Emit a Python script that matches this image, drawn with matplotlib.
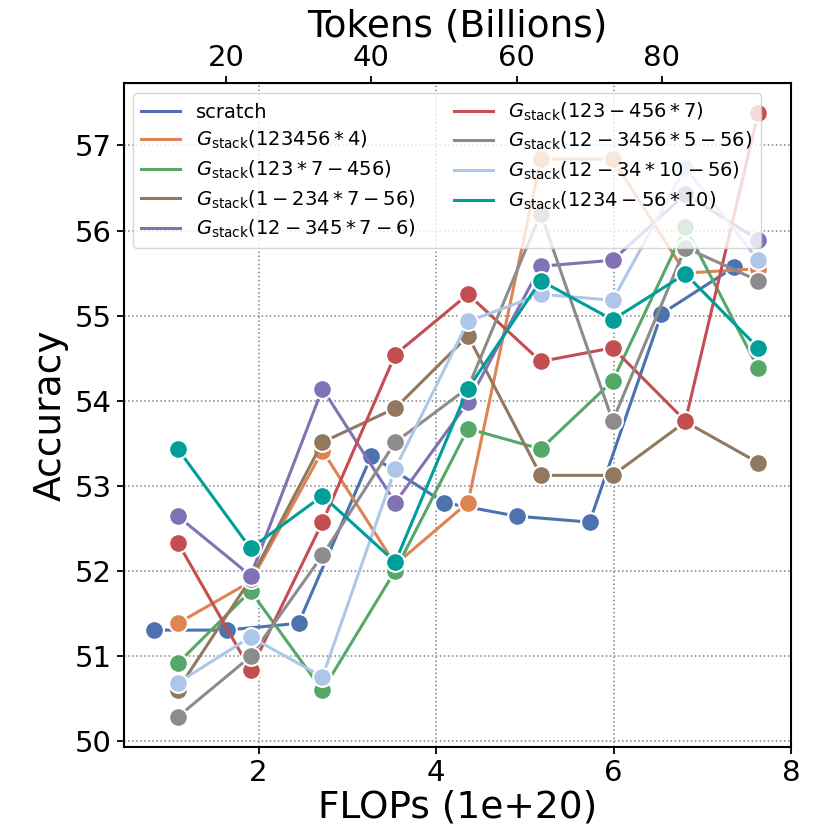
import numpy as np
import matplotlib
matplotlib.use('Agg')
import matplotlib.pyplot as plt

# x positions (FLOPs, 1e+20)
scratch_flops = [0.82, 1.64, 2.45, 3.27, 4.09, 4.91, 5.73, 6.54, 7.36]
stack_flops = [1.09, 1.91, 2.72, 3.54, 4.36, 5.18, 5.99, 6.81, 7.63]
flops_per_token = 0.0818  # 1e+20 FLOPs per billion tokens (scratch)

labels = [
    'scratch',
    r'$G_{\rm stack}(123456*4)$',
    r'$G_{\rm stack}(123*7-456)$',
    r'$G_{\rm stack}(1-234*7-56)$',
    r'$G_{\rm stack}(12-345*7-6)$',
    r'$G_{\rm stack}(123-456*7)$',
    r'$G_{\rm stack}(12-3456*5-56)$',
    r'$G_{\rm stack}(12-34*10-56)$',
    r'$G_{\rm stack}(1234-56*10)$',
]
colors = ['#4c72b0', '#dd8452', '#55a868', '#937860', '#8172b3',
          '#c44e52', '#8c8c8c', '#aec7e8', '#009e99']

acc_scratch = [51.30, 51.30, 51.38, 53.35, 52.80, 52.64, 52.57, 55.02, 55.57]
acc_123456_4 = [51.38, 51.87, 53.41, 52.07, 52.80, 56.84, 56.84, 55.50, 55.55]
acc_123_7_456 = [50.91, 51.76, 50.59, 52.00, 53.67, 53.43, 54.23, 56.04, 54.38]
acc_1_234_7_56 = [50.60, 51.90, 53.51, 53.91, 54.76, 53.12, 53.12, 53.75, 53.27]
acc_12_345_7_6 = [52.64, 51.94, 54.14, 52.80, 53.98, 55.58, 55.65, 56.43, 55.89]
acc_123_456_7 = [52.33, 50.83, 52.57, 54.54, 55.25, 54.46, 54.62, 53.76, 57.38]
acc_12_3456_5_56 = [50.28, 50.99, 52.18, 53.51, 54.15, 56.20, 53.76, 55.80, 55.41]
acc_12_34_10_56 = [50.68, 51.22, 50.75, 53.20, 54.93, 55.25, 55.18, 56.74, 55.65]
acc_1234_56_10 = [53.43, 52.26, 52.88, 52.10, 54.14, 55.41, 54.95, 55.49, 54.62]

series = [acc_scratch, acc_123456_4, acc_123_7_456, acc_1_234_7_56,
          acc_12_345_7_6, acc_123_456_7, acc_12_3456_5_56,
          acc_12_34_10_56, acc_1234_56_10]

fig = plt.figure(figsize=(8.3, 8.3), dpi=100)
ax = fig.add_axes([0.149, 0.100, 0.804, 0.800])

for i, (lab, col, acc) in enumerate(zip(labels, colors, series)):
    xs = scratch_flops if i == 0 else stack_flops
    ax.plot(xs, acc, '-', color=col, linewidth=2.2, label=lab)
    ax.plot(xs, acc, 'o', color=col, markersize=13.5,
            markeredgecolor='white', markeredgewidth=1.5)

ax.set_xticks([2, 4, 6, 8])
ax.set_yticks(np.arange(50, 58))
ax.tick_params(labelsize=21, width=1.3, length=5)
ax.set_xlabel('FLOPs (1e+20)', fontsize=27, labelpad=2)
ax.set_ylabel('Accuracy', fontsize=27)
ax.grid(True, linestyle=':', color='gray', linewidth=1.1)
ax.set_axisbelow(True)
for sp in ax.spines.values():
    sp.set_linewidth(1.5)

top = ax.secondary_xaxis(
    'top',
    functions=(lambda f: f / flops_per_token, lambda t: t * flops_per_token))
top.set_xticks([20, 40, 60, 80])
top.tick_params(labelsize=21, width=1.3, length=5, pad=3)
top.set_xlabel('Tokens (Billions)', fontsize=27, labelpad=5)

ax.legend(loc='upper left', ncol=2, fontsize=14, handlelength=2.0,
          labelspacing=0.38, columnspacing=2.0, borderaxespad=0.5)

fig.savefig('out.png', dpi=100)
